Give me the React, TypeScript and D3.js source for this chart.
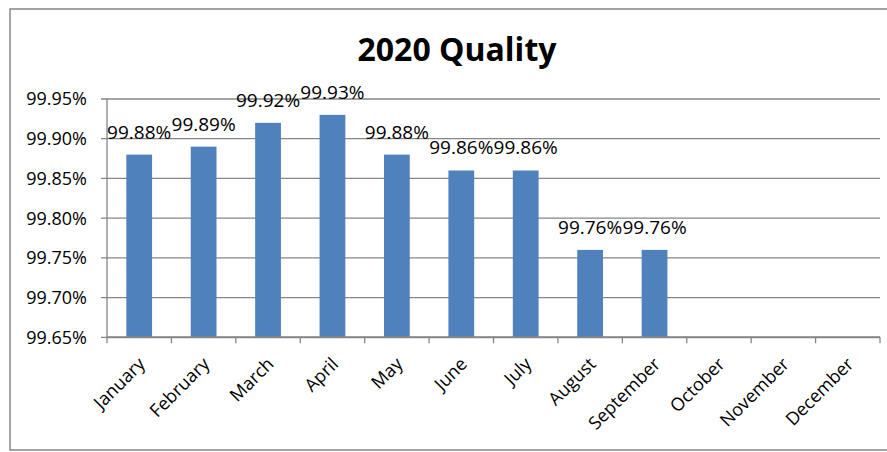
import React from 'react';
import * as d3 from 'd3';

const months = ['January', 'February', 'March', 'April', 'May', 'June', 'July', 'August', 'September', 'October', 'November', 'December'];
const quality = [99.88, 99.89, 99.92, 99.93, 99.88, 99.86, 99.86, 99.76, 99.76];
const yTicks = [99.65, 99.7, 99.75, 99.8, 99.85, 99.9, 99.95];

export default function App() {
  const width = 887;
  const height = 452;
  const left = 107, right = 880, top = 99, bottom = 337.3;

  const x = d3.scaleBand<string>().domain(months).range([left, right]).paddingInner(0.6).paddingOuter(0.3);
  const y = d3.scaleLinear().domain([99.65, 99.95]).range([bottom, top]);
  const step = x.step();
  const grey = '#868686';
  const font = '"Open Sans", sans-serif';

  return (
    <svg width={width} height={height} style={{ position: 'absolute', left: 0, top: 0, background: '#fff' }}>
      {/* chart border (right edge falls outside the frame) */}
      <rect x={10} y={9} width={900} height={441} fill="#fff" stroke={grey} strokeWidth={1.5} />

      <text x={457} y={61} textAnchor="middle" fontFamily={font} fontWeight="bold" fontSize={32} fill="#000">
        2020 Quality
      </text>

      {/* gridlines + y ticks */}
      {yTicks.map(t => (
        <g key={t}>
          <line x1={left - 6} x2={right} y1={y(t)} y2={y(t)} stroke={grey} strokeWidth={1.3} />
          <text x={87} y={y(t)} dy="0.36em" textAnchor="end" fontFamily={font} fontSize={18} fill="#000">
            {d3.format('.2f')(t)}%
          </text>
        </g>
      ))}

      {/* bars */}
      {quality.map((v, i) => (
        <rect key={months[i]} x={x(months[i])} y={y(v)} width={x.bandwidth()} height={bottom - y(v)} fill="#4F81BD" />
      ))}

      {/* data labels */}
      {quality.map((v, i) => (
        <text key={'l' + i} x={(x(months[i]) as number) + x.bandwidth() / 2} y={y(v) - 16} textAnchor="middle"
          fontFamily={font} fontSize={19} fill="#000">
          {d3.format('.2f')(v)}%
        </text>
      ))}

      {/* axes */}
      <line x1={left} x2={left} y1={top} y2={bottom} stroke={grey} strokeWidth={1.3} />
      <line x1={left} x2={right} y1={bottom} y2={bottom} stroke={grey} strokeWidth={2} />
      {d3.range(months.length + 1).map(i => (
        <line key={'t' + i} x1={left + i * step} x2={left + i * step} y1={bottom} y2={bottom + 6} stroke={grey} strokeWidth={1.3} />
      ))}

      {months.map(m => {
        const cx = (x(m) as number) + x.bandwidth() / 2 - 2;
        const cy = bottom + 19;
        return (
          <text key={m} x={cx} y={cy} transform={`rotate(-45 ${cx} ${cy})`} textAnchor="end" dy="0.7em"
            fontFamily={font} fontSize={18} fill="#000">
            {m}
          </text>
        );
      })}
    </svg>
  );
}
